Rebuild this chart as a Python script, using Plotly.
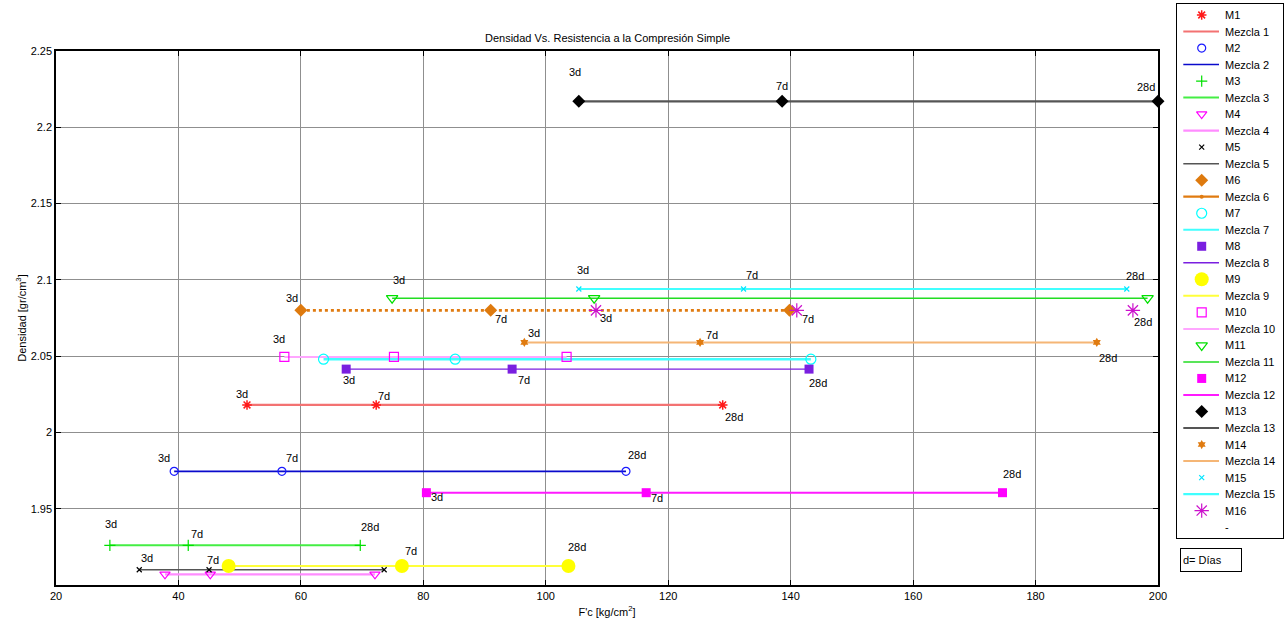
import plotly.graph_objects as go

# ---------------- data (F'c in kg/cm2 at 3d, 7d, 28d ; density gr/cm3) ----------------
FC_M1 = [51.2, 72.3, 128.9];  DENS_M1 = 2.018
FC_M2 = [39.3, 56.9, 113.1];  DENS_M2 = 1.9745
FC_M3 = [28.8, 41.6, 69.7];   DENS_M3 = 1.926
FC_M4 = [37.8, 45.2, 72.1];   DENS_M4 = 1.907
FC_M5 = [33.6, 45.0, 73.6];   DENS_M5 = 1.910
FC_M6 = [60.0, 91.0, 139.8];  DENS_M6 = 2.080
FC_M7 = [63.7, 85.2, 143.3];  DENS_M7 = 2.048
FC_M8 = [67.4, 94.5, 143.0];  DENS_M8 = 2.0415
FC_M9 = [48.2, 76.5, 103.7];  DENS_M9 = 1.9125
FC_M10 = [57.3, 75.2, 103.4]; DENS_M10 = 2.0495
FC_M11 = [74.9, 107.9, 198.3]; DENS_M11 = 2.088
FC_M12 = [80.5, 116.4, 174.6]; DENS_M12 = 1.9605
FC_M13 = [105.4, 138.6, 200.0]; DENS_M13 = 2.217
FC_M14 = [96.5, 125.2, 190.0]; DENS_M14 = 2.059
FC_M15 = [105.4, 132.3, 194.9]; DENS_M15 = 2.094
FC_M16 = [108.2, 141.0, 195.9]; DENS_M16 = 2.080

DAYS = ["3d", "7d", "28d"]
NAMES = ["M%d" % i for i in range(1, 17)]
LINE_NAMES = ["Mezcla %d" % i for i in range(1, 16)] + ["-"]

X_TICKS = [20, 40, 60, 80, 100, 120, 140, 160, 180, 200]
Y_TICKS = [1.95, 2.0, 2.05, 2.1, 2.15, 2.2, 2.25]
Y_TICKTEXT = ["1.95", "2", "2.05", "2.1", "2.15", "2.2", "2.25"]

# day labels: (day index, pixel dx, pixel dy (down positive))
LABELS = [
    [(0, -5, -11), (1, 8, -9), (2, 11, 12)],          # M1
    [(0, -10, -13), (1, 10, -13), (2, 11, -16)],      # M2
    [(0, 1, -21), (1, 9, -11), (2, 10, -18)],         # M3
    [],                                               # M4
    [(0, 8, -12), (1, 4, -10)],                       # M5
    [(0, -9, -12), (1, 10, 9)],                       # M6
    [],                                               # M7
    [(0, 3, 11), (1, 12, 11), (2, 9, 14)],            # M8
    [(1, 9, -15), (2, 9, -19)],                       # M9
    [(0, -5, -18)],                                   # M10
    [(0, 7, -18)],                                    # M11
    [(0, 11, 4), (1, 11, 5), (2, 9, -19)],            # M12
    [(0, -4, -29), (1, 0, -15), (2, -12, -14)],       # M13
    [(0, 10, -9), (1, 12, -7), (2, 11, 16)],          # M14
    [(0, 4, -19), (1, 8, -14), (2, 8, -13)],          # M15
    [(0, 10, 8), (1, 11, 9), (2, 10, 12)],            # M16
]

FCS = [FC_M1, FC_M2, FC_M3, FC_M4, FC_M5, FC_M6, FC_M7, FC_M8,
       FC_M9, FC_M10, FC_M11, FC_M12, FC_M13, FC_M14, FC_M15, FC_M16]
DENS = [DENS_M1, DENS_M2, DENS_M3, DENS_M4, DENS_M5, DENS_M6, DENS_M7, DENS_M8,
        DENS_M9, DENS_M10, DENS_M11, DENS_M12, DENS_M13, DENS_M14, DENS_M15, DENS_M16]

# ---------------- styles ----------------
SYMBOLS = ["asterisk-open", "circle-open", "cross-thin-open", "triangle-down-open",
           "x-thin-open", "diamond", "circle-open", "square",
           "circle", "square-open", "triangle-down-open", "square",
           "diamond", "hexagram", "x-thin-open", "asterisk-open"]
MCOLORS = ["#FF1A1A", "#1A1AFF", "#00E000", "#FF00FF",
           "#000000", "#DE7A0E", "#00FFFF", "#7A1FE0",
           "#FFFF00", "#FF00FF", "#00E000", "#FF00FF",
           "#000000", "#E07B10", "#00E5FF", "#CC11CC"]
MSIZES = [8, 8, 8, 9, 5, 10, 10, 9, 14, 9, 10, 9, 10, 7, 5, 12]
MLINEW = [1.5, 1.2, 1.2, 1.2, 1.2, 0, 1.2, 0, 0, 1.2, 1.2, 0, 0, 0, 1.2, 1.2]
LCOLORS = ["#F37272", "#0A0ACC", "#44EE44", "#FF8CFF",
           "#555555", "#E07B10", "#40FFFF", "#7A1FE0",
           "#FFFF3A", "#FFA6FF", "#22DD22", "#FF1AFF",
           "#555555", "#F5B676", "#40FFFF"]
LWIDTHS = [2.2, 1.6, 2.0, 2.2, 1.6, 2.6, 2.6, 1.4, 2.0, 2.0, 1.5, 2.0, 2.2, 2.0, 2.2]
LDASH = ["solid", "solid", "solid", "solid", "solid", "dot", "solid", "solid",
         "solid", "solid", "solid", "solid", "solid", "solid", "solid"]

FONT = "Liberation Sans, Arial, sans-serif"

# ---------------- page geometry (positions measured on the reference image) ----------------
W, H = 1288, 623
ML, MR, MT, MB = 56, 3, 2, 38
PW, PH = W - ML - MR, H - MT - MB


def px_x(px):
    return (px - ML) / PW


def px_y(py):
    return (H - MB - py) / PH


fig = go.Figure()

# mixture lines
for i in range(15):
    fig.add_trace(go.Scatter(
        x=FCS[i], y=[DENS[i]] * len(FCS[i]), mode="lines", name=LINE_NAMES[i],
        line=dict(color=LCOLORS[i], width=LWIDTHS[i], dash=LDASH[i]),
        showlegend=False, hoverinfo="skip"))

# markers
for i in range(16):
    fig.add_trace(go.Scatter(
        x=FCS[i], y=[DENS[i]] * len(FCS[i]), mode="markers", name=NAMES[i],
        marker=dict(symbol=SYMBOLS[i], size=MSIZES[i], color=MCOLORS[i],
                    line=dict(color=MCOLORS[i], width=MLINEW[i])),
        cliponaxis=False, showlegend=False))

annotations = []
for i in range(16):
    for (d, dx, dy) in LABELS[i]:
        annotations.append(dict(
            x=FCS[i][d], y=DENS[i], xref="x", yref="y", text=DAYS[d],
            showarrow=False, xshift=dx, yshift=-dy,
            font=dict(family=FONT, size=11, color="black")))

# ---------------- hand-built legend (MATLAB style, one column) ----------------
LEG_X0, LEG_X1, LEG_Y0, LEG_Y1 = 1177, 1283, 4, 538
SYM_X, LINE_X0, LINE_X1, TXT_X = 1201.7, 1183.3, 1219.0, 1222.5
ROW0, ROWH = 15.0, 16.52

row = 0
for i in range(16):
    y_m = ROW0 + ROWH * row
    fig.add_trace(go.Scatter(
        x=[SYM_X], y=[y_m], xaxis="x2", yaxis="y2", mode="markers",
        marker=dict(symbol=SYMBOLS[i], size=MSIZES[i], color=MCOLORS[i],
                    line=dict(color=MCOLORS[i], width=MLINEW[i])),
        showlegend=False, hoverinfo="skip", cliponaxis=False))
    annotations.append(dict(x=TXT_X, y=y_m, xref="x2", yref="y2", text=NAMES[i],
                            xanchor="left", yanchor="middle", showarrow=False,
                            font=dict(family=FONT, size=11, color="black")))
    row += 1
    y_l = ROW0 + ROWH * row
    if i < 15:
        fig.add_trace(go.Scatter(
            x=[LINE_X0, LINE_X1], y=[y_l, y_l], xaxis="x2", yaxis="y2", mode="lines",
            line=dict(color=LCOLORS[i], width=min(LWIDTHS[i], 2.2)),
            showlegend=False, hoverinfo="skip"))
        if LDASH[i] == "dot":
            fig.add_trace(go.Scatter(
                x=[SYM_X], y=[y_l], xaxis="x2", yaxis="y2", mode="markers",
                marker=dict(symbol="circle", size=4, color=LCOLORS[i]),
                showlegend=False, hoverinfo="skip"))
    annotations.append(dict(x=TXT_X, y=y_l, xref="x2", yref="y2", text=LINE_NAMES[i],
                            xanchor="left", yanchor="middle", showarrow=False,
                            font=dict(family=FONT, size=11, color="black")))
    row += 1

# title
annotations.append(dict(x=px_x(607), y=px_y(38), xref="paper", yref="paper",
                        text="Densidad Vs. Resistencia a la Compresión Simple",
                        showarrow=False, xanchor="center", yanchor="middle",
                        font=dict(family=FONT, size=11, color="black")))
# d= Días box
annotations.append(dict(x=px_x(1180), y=px_y(559.5), xref="paper", yref="paper",
                        text="d= Días", showarrow=False, xanchor="left", yanchor="middle",
                        width=56, height=18, align="left", borderpad=2,
                        bordercolor="black", borderwidth=1, bgcolor="white",
                        font=dict(family=FONT, size=11, color="black")))

axis_common = dict(showline=True, linecolor="black", linewidth=1.5, mirror="ticks",
                   ticks="inside", ticklen=5, tickcolor="black", tickwidth=1,
                   showgrid=True, gridcolor="#8F8F8F", gridwidth=1, zeroline=False,
                   automargin=False,
                   tickfont=dict(family=FONT, size=11, color="black"))

legend_axis = dict(showgrid=False, zeroline=False, showticklabels=False, ticks="",
                   showline=True, mirror=True, linecolor="black", linewidth=1.2,
                   fixedrange=True, automargin=False)

fig.update_layout(
    width=W, height=H, autosize=False,
    margin=dict(l=ML, r=MR, t=MT, b=MB, autoexpand=False),
    paper_bgcolor="white", plot_bgcolor="white",
    showlegend=False,
    xaxis=dict(domain=[0, px_x(1158)], range=[20, 200], tickvals=X_TICKS,
               title=dict(text="F'c [kg/cm<sup>2</sup>]", standoff=7,
                          font=dict(family=FONT, size=11, color="black")),
               anchor="y", **axis_common),
    yaxis=dict(domain=[0, px_y(51)], range=[1.9, 2.25], tickvals=Y_TICKS,
               ticktext=Y_TICKTEXT,
               title=dict(text="Densidad [gr/cm<sup>3</sup>]", standoff=2,
                          font=dict(family=FONT, size=11, color="black")),
               anchor="x", **axis_common),
    xaxis2=dict(domain=[px_x(LEG_X0), px_x(LEG_X1)], range=[LEG_X0, LEG_X1],
                anchor="y2", **legend_axis),
    yaxis2=dict(domain=[px_y(LEG_Y1), px_y(LEG_Y0)], range=[LEG_Y1, LEG_Y0],
                anchor="x2", **legend_axis),
    annotations=annotations,
    font=dict(family=FONT, size=11, color="black"),
)

fig.write_html(
    "out.html",
    config={"displayModeBar": False},
    post_script="document.body.style.margin='0';document.body.style.overflow='hidden';",
)
